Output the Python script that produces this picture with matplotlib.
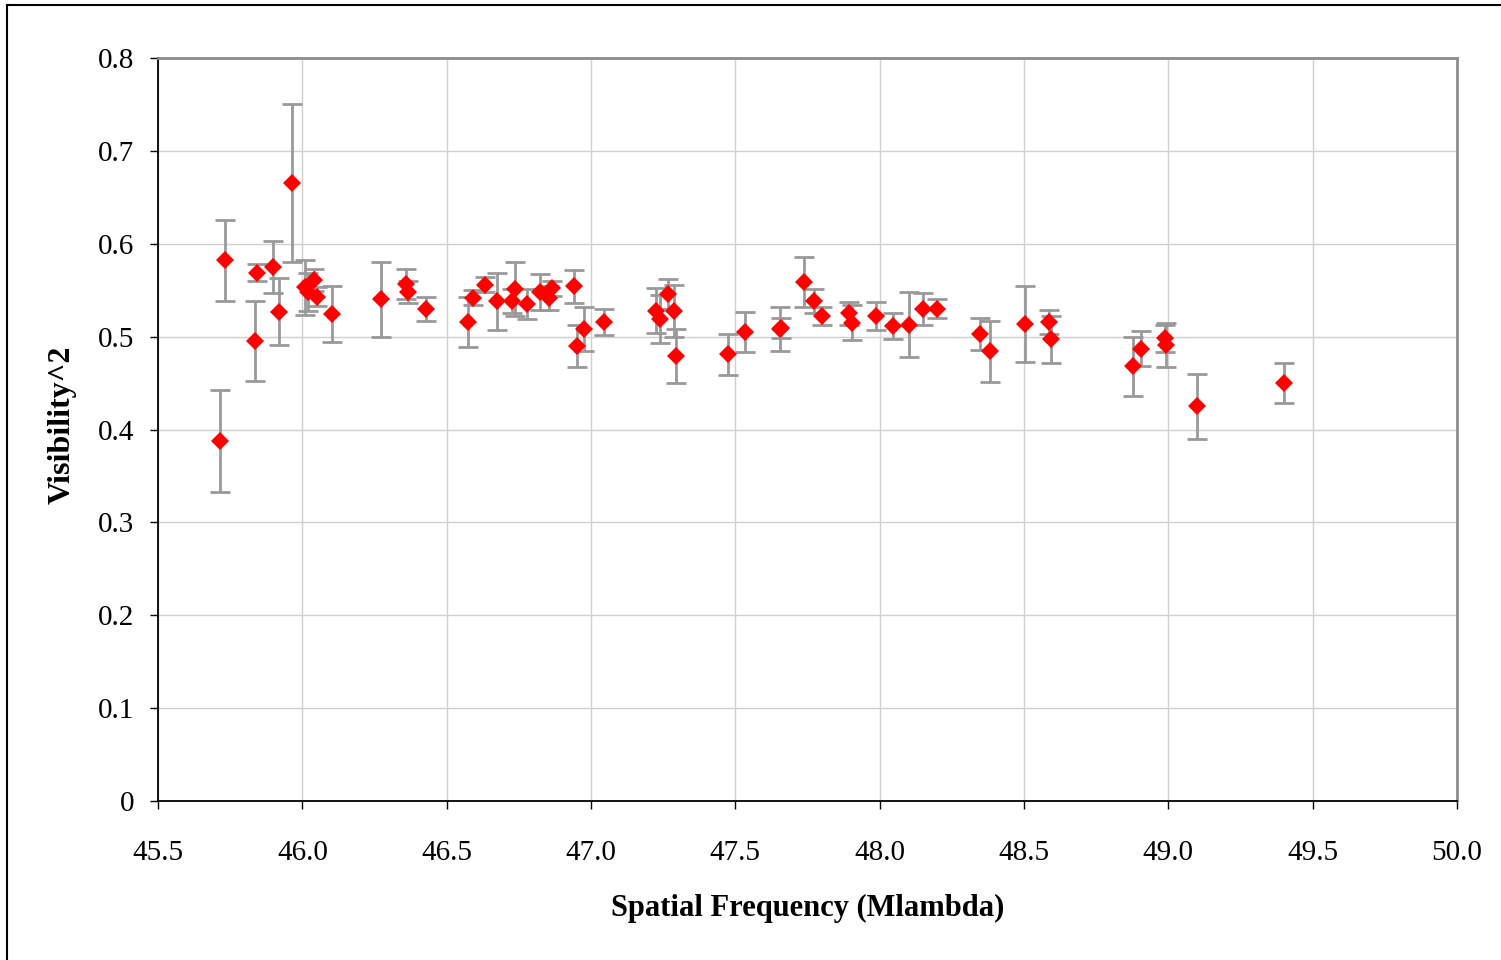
import matplotlib
matplotlib.use("Agg")
from matplotlib import pyplot as plt
from matplotlib.lines import Line2D

# spatial frequency (Mlambda), squared visibility and its 1-sigma error
freq = [45.715, 45.733, 45.836, 45.844, 45.897, 45.920, 45.964, 46.010, 46.020, 46.040,
        46.050, 46.102, 46.273, 46.358, 46.367, 46.427, 46.573, 46.590, 46.633, 46.675,
        46.727, 46.737, 46.777, 46.823, 46.855, 46.866, 46.942, 46.950, 46.976, 47.046,
        47.224, 47.239, 47.268, 47.286, 47.293, 47.473, 47.533, 47.655, 47.657, 47.739,
        47.773, 47.799, 47.894, 47.903, 47.987, 48.047, 48.100, 48.149, 48.197, 48.347,
        48.382, 48.503, 48.588, 48.595, 48.878, 48.905, 48.990, 48.992, 49.100, 49.402]
vis2 = [0.388, 0.582, 0.495, 0.569, 0.575, 0.527, 0.665, 0.553, 0.548, 0.561,
        0.543, 0.524, 0.540, 0.557, 0.548, 0.530, 0.516, 0.542, 0.556, 0.538,
        0.538, 0.551, 0.535, 0.548, 0.542, 0.552, 0.554, 0.490, 0.508, 0.516,
        0.528, 0.519, 0.546, 0.528, 0.479, 0.481, 0.505, 0.508, 0.509, 0.559,
        0.538, 0.522, 0.525, 0.515, 0.522, 0.511, 0.513, 0.530, 0.530, 0.503,
        0.484, 0.514, 0.516, 0.497, 0.468, 0.487, 0.498, 0.491, 0.425, 0.450]
vis2Err = [0.055, 0.044, 0.043, 0.0095, 0.028, 0.036, 0.085, 0.030, 0.020, 0.012,
           0.010, 0.030, 0.040, 0.016, 0.012, 0.013, 0.027, 0.008, 0.008, 0.031,
           0.013, 0.029, 0.016, 0.019, 0.013, 0.008, 0.018, 0.023, 0.024, 0.014,
           0.024, 0.026, 0.016, 0.028, 0.029, 0.022, 0.022, 0.024, 0.011, 0.027,
           0.013, 0.010, 0.012, 0.019, 0.015, 0.014, 0.035, 0.017, 0.010, 0.017,
           0.033, 0.041, 0.013, 0.025, 0.032, 0.019, 0.015, 0.024, 0.035, 0.022]

xTicks = [45.5, 46.0, 46.5, 47.0, 47.5, 48.0, 48.5, 49.0, 49.5, 50.0]
yTicks = [0, 0.1, 0.2, 0.3, 0.4, 0.5, 0.6, 0.7, 0.8]

plt.rcParams['font.family'] = ['Liberation Serif', 'DejaVu Serif']

fig = plt.figure(figsize=(15.01, 9.6), dpi=100)
ax = fig.add_axes([158 / 1501, 1 - 801 / 960, (1457 - 158) / 1501, (801 - 58) / 960])

ax.errorbar(freq, vis2, yerr=vis2Err, fmt='none', ecolor='#999999',
            elinewidth=2.0, capsize=7, capthick=2.0, zorder=2)
ax.plot(freq, vis2, linestyle='none', marker='D', markersize=9,
        color='#ff0000', markeredgewidth=0, zorder=3)

ax.set_xlim(45.5, 50.0)
ax.set_ylim(0, 0.8)
ax.set_xticks(xTicks)
ax.set_xticklabels(['%.1f' % t for t in xTicks])
ax.set_yticks(yTicks)
ax.set_yticklabels(['0' if t == 0 else '%.1f' % t for t in yTicks])
ax.tick_params(axis='both', labelsize=21, direction='out', length=6, width=1, color='black')
ax.tick_params(axis='y', pad=11)
ax.tick_params(axis='x', pad=22)
ax.grid(True, color='#d0d0d0', linewidth=1)
ax.set_axisbelow(True)

for side in ['left', 'bottom']:
    ax.spines[side].set_color('black')
    ax.spines[side].set_linewidth(1.3)
for side in ['top', 'right']:
    ax.spines[side].set_color('#8c8c8c')
    ax.spines[side].set_linewidth(2)

fig.text(808 / 1501, 1 - 908 / 960, 'Spatial Frequency (Mlambda)', fontsize=22,
         fontweight='bold', ha='center', va='center')
fig.text(62 / 1501, 1 - 425 / 960, 'Visibility^2', fontsize=23, fontweight='bold',
         rotation=90, ha='center', va='center')

# chart frame, left and top edges
fig.add_artist(Line2D([7 / 1501, 7 / 1501], [0, 1 - 5 / 960], color='black', linewidth=1.5))
fig.add_artist(Line2D([7 / 1501, 1], [1 - 5 / 960, 1 - 5 / 960], color='black', linewidth=1.5))

fig.savefig('out.png', dpi=100)
